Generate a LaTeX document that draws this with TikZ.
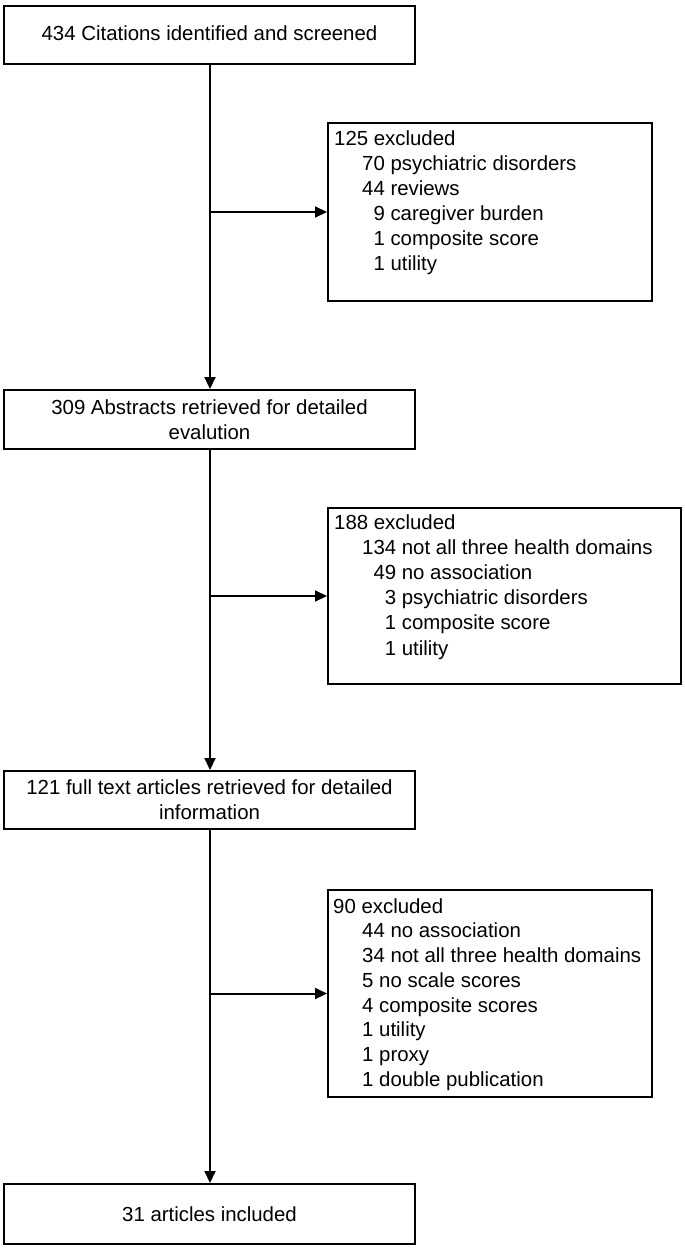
\documentclass[tikz,border=0pt]{standalone}
\usepackage{fontspec}
\setmainfont{Liberation Sans}
\usetikzlibrary{arrows.meta}
\begin{document}
\begin{tikzpicture}[x=1pt,y=-1pt,
  every node/.style={font=\fontsize{20.4}{25}\selectfont},
  mainbox/.style={draw, line width=2pt, minimum width=411pt, minimum height=58pt, align=center, inner sep=0pt, anchor=north west},
  exbox/.style={draw, line width=2pt, inner sep=0pt, anchor=north west},
  exline/.style={anchor=base west, inner sep=0pt},
  conn/.style={line width=2pt, -{Triangle[length=12pt,width=11pt]}}
]
\fill[white] (0,0) rectangle (685,1248);
\useasboundingbox (0,0) rectangle (685,1248);

% main boxes
\node[mainbox, minimum height=58pt, text depth=4pt] (b1) at (3,5) {434 Citations identified and screened};
\node[mainbox, minimum height=59pt] (b2) at (3,389) {309 Abstracts retrieved for detailed\\evalution};
\node[mainbox, minimum height=58pt] (b3) at (3,770) {121 full text articles retrieved for detailed\\information};
\node[mainbox, minimum height=60pt] (b4) at (3,1183) {31 articles included};

% exclusion boxes
\node[exbox, minimum width=324pt, minimum height=178pt] (e1) at (327,122) {};
\node[exbox, minimum width=353pt, minimum height=176pt] (e2) at (327,507) {};
\node[exbox, minimum width=324pt, minimum height=207pt] (e3) at (327,889) {};

% exclusion texts
\node[exline] (e1h) at (334,145) {125 excluded};
\foreach \t [count=\i] in {70 psychiatric disorders, 44 reviews, \phantom{0}9 caregiver burden, \phantom{0}1 composite score, \phantom{0}1 utility}
  \node[exline] (e1l\i) at (362,145+25*\i) {\t};

\node[exline] (e2h) at (334,529) {188 excluded};
\foreach \t [count=\i] in {134 not all three health domains, \phantom{0}49 no association, \phantom{00}3 psychiatric disorders, \phantom{00}1 composite score, \phantom{00}1 utility}
  \node[exline] (e2l\i) at (362,529+25.2*\i) {\t};

\node[exline] (e3h) at (333,913) {90 excluded};
\foreach \t [count=\i] in {44 no association, 34 not all three health domains, 5 no scale scores, 4 composite scores, 1 utility, 1 proxy, 1 double publication}
  \node[exline] (e3l\i) at (362,913+24.75*\i) {\t};

% connectors
\coordinate (sp) at (210,0);
\draw[conn] (b1.south -| sp) -- (b2.north -| sp);
\draw[conn] (b2.south -| sp) -- (b3.north -| sp);
\draw[conn] (b3.south -| sp) -- (b4.north -| sp);
\draw[conn] (e1.west -| sp) -- (e1.west);
\draw[conn] (e2.west -| sp) -- (e2.west);
\draw[conn] (e3.west -| sp) -- (e3.west);
\end{tikzpicture}
\end{document}
